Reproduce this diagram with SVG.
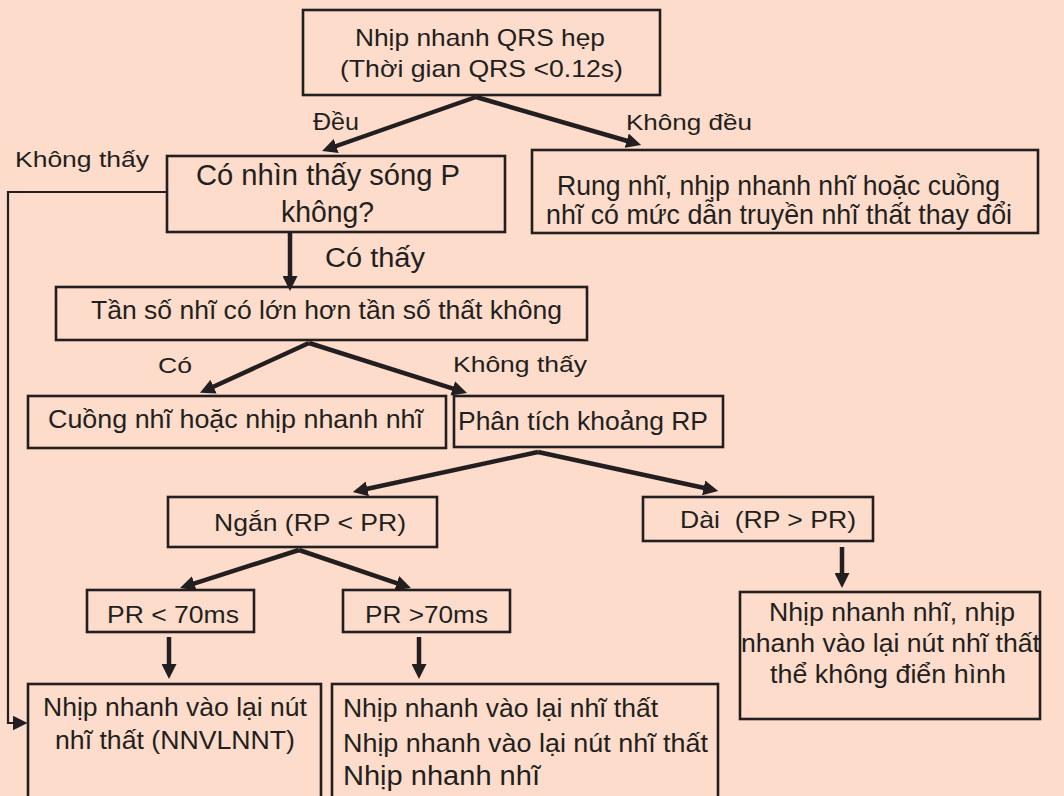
<svg xmlns="http://www.w3.org/2000/svg" width="1064" height="796" viewBox="0 0 1064 796">
  <style>
    .box { fill: none; stroke: #231f20; stroke-width: 2.6; }
    .t { font-family: "Liberation Sans", Arial, sans-serif; fill: #231f20; white-space: pre; }
    .arrow { fill: none; stroke: #231f20; stroke-width: 4.5; marker-end: url(#ah); }
    .route { fill: none; stroke: #231f20; stroke-width: 2.2; marker-end: url(#ah); }
  </style>
  <defs>
    <marker id="ah" viewBox="0 0 10 10" refX="3" refY="5" markerWidth="15" markerHeight="15" markerUnits="userSpaceOnUse" orient="auto">
      <path d="M0,0 L10,5 L0,10 z" fill="#231f20"/>
    </marker>
  </defs>

  <rect x="0" y="0" width="1064" height="796" fill="#fddccb"/>

  <!-- connectors -->
  <g id="connectors">
    <path class="arrow" d="M476,97 L332,147.5"/>
    <path class="arrow" d="M476,97 L631,142"/>
    <path class="arrow" d="M290,232 L290,280.5"/>
    <path class="arrow" d="M309,343 L209.5,388.5"/>
    <path class="arrow" d="M309,343 L457,389.8"/>
    <path class="arrow" d="M538,452 L363,489.8"/>
    <path class="arrow" d="M538,452 L708,488.8"/>
    <path class="arrow" d="M299,550 L190,584.8"/>
    <path class="arrow" d="M299,550 L401,584.6"/>
    <path class="arrow" d="M169,637 L169,668.5"/>
    <path class="arrow" d="M419,637 L419,668.5"/>
    <path class="arrow" d="M842,547 L842,577.5"/>
    <path class="route" d="M167,192 L8,192 L8,723 L17,723"/>
    <text class="t" x="313" y="130" font-size="23" textLength="46" lengthAdjust="spacingAndGlyphs">Đều</text>
    <text class="t" x="626" y="130" font-size="22" textLength="126" lengthAdjust="spacingAndGlyphs">Không đều</text>
    <text class="t" x="15" y="167" font-size="22" textLength="134" lengthAdjust="spacingAndGlyphs">Không thấy</text>
    <text class="t" x="325" y="267" font-size="27" textLength="100" lengthAdjust="spacingAndGlyphs">Có thấy</text>
    <text class="t" x="158" y="373" font-size="22" textLength="34" lengthAdjust="spacingAndGlyphs">Có</text>
    <text class="t" x="453" y="372" font-size="22" textLength="134" lengthAdjust="spacingAndGlyphs">Không thấy</text>
  </g>

  <g id="n-qrs">
    <rect class="box" x="303" y="10" width="357" height="85"/>
    <text class="t" x="355" y="46" font-size="24" textLength="250" lengthAdjust="spacingAndGlyphs">Nhịp nhanh QRS hẹp</text>
    <text class="t" x="340" y="77" font-size="24" textLength="283" lengthAdjust="spacingAndGlyphs">(Thời gian QRS &lt;0.12s)</text>
  </g>

  <g id="n-pwave">
    <rect class="box" x="167" y="156" width="338" height="76"/>
    <text class="t" x="196" y="185" font-size="29" textLength="264" lengthAdjust="spacingAndGlyphs">Có nhìn thấy sóng P</text>
    <text class="t" x="281" y="222" font-size="29" textLength="93" lengthAdjust="spacingAndGlyphs">không?</text>
  </g>

  <g id="n-af">
    <rect class="box" x="532" y="150" width="506" height="83"/>
    <text class="t" x="557" y="195" font-size="28" textLength="443" lengthAdjust="spacingAndGlyphs">Rung nhĩ, nhịp nhanh nhĩ hoặc cuồng</text>
    <text class="t" x="546" y="224" font-size="28" textLength="466" lengthAdjust="spacingAndGlyphs">nhĩ có mức dẫn truyền nhĩ thất thay đổi</text>
  </g>

  <g id="n-rate">
    <rect class="box" x="56" y="287" width="531" height="53"/>
    <text class="t" x="91" y="319" font-size="26" textLength="471" lengthAdjust="spacingAndGlyphs">Tần số nhĩ có lớn hơn tần số thất không</text>
  </g>

  <g id="n-flutter">
    <rect class="box" x="28" y="396" width="418" height="52"/>
    <text class="t" x="48" y="428" font-size="26" textLength="375" lengthAdjust="spacingAndGlyphs">Cuồng nhĩ hoặc nhịp nhanh nhĩ</text>
  </g>

  <g id="n-rp">
    <rect class="box" x="454" y="396" width="269" height="51"/>
    <text class="t" x="458" y="430" font-size="26" textLength="250" lengthAdjust="spacingAndGlyphs">Phân tích khoảng RP</text>
  </g>

  <g id="n-short">
    <rect class="box" x="168" y="497" width="269" height="50"/>
    <text class="t" x="214" y="531" font-size="24" textLength="192" lengthAdjust="spacingAndGlyphs">Ngắn (RP &lt; PR)</text>
  </g>

  <g id="n-long">
    <rect class="box" x="643" y="497" width="230" height="44"/>
    <text class="t" x="680" y="528" font-size="24" textLength="176" lengthAdjust="spacingAndGlyphs">Dài  (RP &gt; PR)</text>
  </g>

  <g id="n-pr-lt">
    <rect class="box" x="87" y="590" width="167" height="42"/>
    <text class="t" x="107" y="623" font-size="24" textLength="132" lengthAdjust="spacingAndGlyphs">PR &lt; 70ms</text>
  </g>

  <g id="n-pr-gt">
    <rect class="box" x="343" y="590" width="167" height="42"/>
    <text class="t" x="365" y="623" font-size="24" textLength="123" lengthAdjust="spacingAndGlyphs">PR &gt;70ms</text>
  </g>

  <g id="n-avnrt">
    <rect class="box" x="28" y="684" width="293" height="130"/>
    <text class="t" x="43" y="716" font-size="26" textLength="264" lengthAdjust="spacingAndGlyphs">Nhịp nhanh vào lại nút</text>
    <text class="t" x="55" y="749" font-size="26" textLength="240" lengthAdjust="spacingAndGlyphs">nhĩ thất (NNVLNNT)</text>
  </g>

  <g id="n-avrt">
    <rect class="box" x="332" y="684" width="386" height="130"/>
    <text class="t" x="343" y="717" font-size="26" textLength="315" lengthAdjust="spacingAndGlyphs">Nhịp nhanh vào lại nhĩ thất</text>
    <text class="t" x="343" y="752" font-size="26" textLength="365" lengthAdjust="spacingAndGlyphs">Nhịp nhanh vào lại nút nhĩ thất</text>
    <text class="t" x="343" y="785" font-size="27" textLength="197" lengthAdjust="spacingAndGlyphs">Nhịp nhanh nhĩ</text>
  </g>

  <g id="n-atypical">
    <rect class="box" x="740" y="592" width="300" height="127"/>
    <text class="t" x="769" y="621" font-size="25" textLength="246" lengthAdjust="spacingAndGlyphs">Nhịp nhanh nhĩ, nhịp</text>
    <text class="t" x="741" y="652" font-size="25" textLength="299" lengthAdjust="spacingAndGlyphs">nhanh vào lại nút nhĩ thất</text>
    <text class="t" x="770" y="683" font-size="25" textLength="236" lengthAdjust="spacingAndGlyphs">thể không điển hình</text>
  </g>
</svg>
